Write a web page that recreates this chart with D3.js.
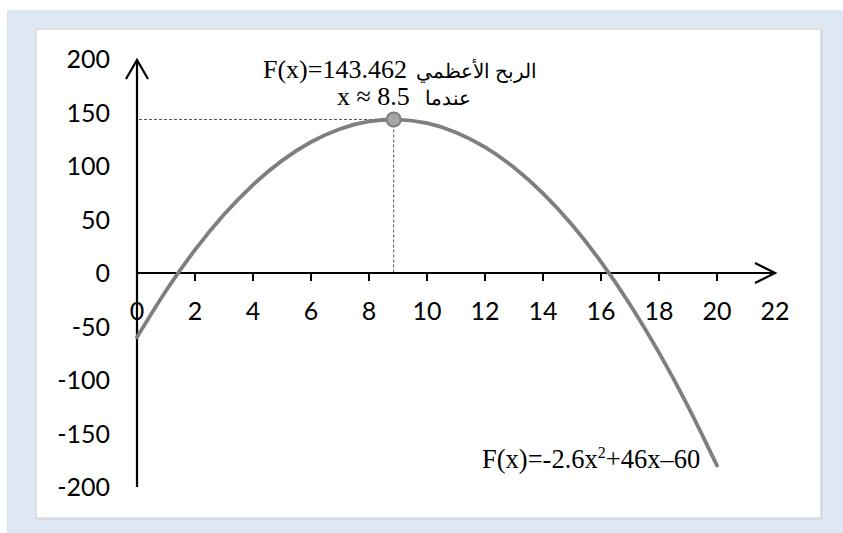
<!DOCTYPE html>
<html>
<head>
<meta charset="utf-8">
<script src="https://cdn.jsdelivr.net/npm/d3@7"></script>
<style>
  body { margin: 0; background: #ffffff; }
</style>
</head>
<body>
<div id="chart"></div>
<script>
// values
const xValues = [0, 1, 2, 3, 4, 5, 6, 7, 8, 9, 10, 11, 12, 13, 14, 15, 16, 17, 18, 19, 20];
const yValues = [-60, -16.6, 21.6, 54.6, 82.4, 105, 122.4, 134.6, 141.6, 143.4, 140, 131.4, 117.6, 98.6, 74.4, 45, 10.4, -29.4, -74.4, -124.6, -180];
const xTicks = [2, 4, 6, 8, 10, 12, 14, 16, 18, 20];
const xTickLabels = [0, 2, 4, 6, 8, 10, 12, 14, 16, 18, 20, 22];
const yTickLabels = [200, 150, 100, 50, 0, -50, -100, -150, -200];
const peakX = [8.85];
const peakY = [143.46];
const annotationLatin = ["F(x)=143.462", "x ≈ 8.5"];
const annotationArabic = ["الربح الأعظمي", "عندما"];
const formulaText = "F(x)=-2.6x";

const W = 843, H = 533;

const svg = d3.select("#chart")
  .append("svg")
  .attr("width", W)
  .attr("height", H);

// backgrounds
svg.append("rect")
  .attr("x", 7).attr("y", 10)
  .attr("width", W - 7).attr("height", H - 10)
  .attr("fill", "#dee8f4");

svg.append("rect")
  .attr("x", 38).attr("y", 31)
  .attr("width", 785).attr("height", 489)
  .attr("fill", "#dcdcdc");
svg.append("rect")
  .attr("x", 36).attr("y", 29)
  .attr("width", 785).attr("height", 489)
  .attr("fill", "#ffffff")
  .attr("stroke", "#d9d9d9")
  .attr("stroke-width", 1.5);

const x = d3.scaleLinear().domain([0, 22]).range([137, 775]);
const y = d3.scaleLinear().domain([-200, 200]).range([487, 59]);

const labelFont = "Lato, 'Open Sans', sans-serif";
const serifFont = "'Liberation Serif', 'Times New Roman', serif";

// y axis labels
svg.append("g")
  .selectAll("text")
  .data(yTickLabels)
  .join("text")
  .attr("x", 110)
  .attr("y", d => y(d))
  .attr("dy", "0.36em")
  .attr("text-anchor", "end")
  .attr("font-family", labelFont)
  .attr("font-size", 25)
  .attr("fill", "#000")
  .text(d => d);

// dashed guide lines to the peak
svg.append("line")
  .attr("x1", x(0) + 2).attr("x2", x(peakX[0]))
  .attr("y1", y(peakY[0])).attr("y2", y(peakY[0]))
  .attr("stroke", "#595959")
  .attr("stroke-width", 1)
  .attr("stroke-dasharray", "3,2");
svg.append("line")
  .attr("x1", x(peakX[0])).attr("x2", x(peakX[0]))
  .attr("y1", y(peakY[0])).attr("y2", y(0))
  .attr("stroke", "#595959")
  .attr("stroke-width", 1)
  .attr("stroke-dasharray", "3,2");

// x axis line + ticks
svg.append("line")
  .attr("x1", x(0)).attr("x2", x(22))
  .attr("y1", y(0)).attr("y2", y(0))
  .attr("stroke", "#000").attr("stroke-width", 2);
svg.append("g")
  .selectAll("line")
  .data(xTicks)
  .join("line")
  .attr("x1", d => x(d)).attr("x2", d => x(d))
  .attr("y1", y(0)).attr("y2", y(0) + 8)
  .attr("stroke", "#000").attr("stroke-width", 2);
svg.append("path")
  .attr("d", `M${x(22) - 20},${y(0) - 10} L${x(22)},${y(0)} L${x(22) - 20},${y(0) + 10}`)
  .attr("fill", "none")
  .attr("stroke", "#000").attr("stroke-width", 2.2);

// y axis line + arrow
svg.append("line")
  .attr("x1", x(0)).attr("x2", x(0))
  .attr("y1", y(-200)).attr("y2", y(200) + 1)
  .attr("stroke", "#000").attr("stroke-width", 2.2);
svg.append("path")
  .attr("d", `M${x(0) - 11},${y(200) + 20} L${x(0)},${y(200) + 1} L${x(0) + 11},${y(200) + 20}`)
  .attr("fill", "none")
  .attr("stroke", "#000").attr("stroke-width", 2.2);

// x axis labels
svg.append("g")
  .selectAll("text")
  .data(xTickLabels)
  .join("text")
  .attr("x", d => x(d))
  .attr("y", y(0) + 47)
  .attr("text-anchor", "middle")
  .attr("font-family", labelFont)
  .attr("font-size", 25)
  .attr("fill", "#000")
  .text(d => d);

// the curve
const pts = xValues.map((v, i) => [v, yValues[i]]);
const line = d3.line()
  .x(d => x(d[0]))
  .y(d => y(d[1]))
  .curve(d3.curveNatural);

svg.append("path")
  .datum(pts)
  .attr("d", line)
  .attr("fill", "none")
  .attr("stroke", "#7f7f7f")
  .attr("stroke-width", 3.8)
  .attr("stroke-linecap", "round");

// peak marker
svg.append("circle")
  .attr("cx", x(peakX[0]))
  .attr("cy", y(peakY[0]))
  .attr("r", 7)
  .attr("fill", "#a6a6a6")
  .attr("stroke", "#7f7f7f")
  .attr("stroke-width", 2);

// annotation: latin part left, arabic part right
const annoLatinX = [263, 337];
const annoArabicX = [537, 471];
const annoY = [78, 105];
annotationLatin.forEach((t, i) => {
  svg.append("text")
    .attr("x", annoLatinX[i])
    .attr("y", annoY[i])
    .attr("font-family", serifFont)
    .attr("font-size", 26)
    .attr("fill", "#000")
    .text(t);
  svg.append("text")
    .attr("x", annoArabicX[i])
    .attr("y", annoY[i])
    .attr("text-anchor", "end")
    .attr("font-family", serifFont)
    .attr("font-size", 20)
    .attr("fill", "#000")
    .text(annotationArabic[i]);
});

// formula
const ft = svg.append("text")
  .attr("x", 482)
  .attr("y", 468)
  .attr("font-family", serifFont)
  .attr("font-size", 26.5)
  .attr("fill", "#000");
ft.append("tspan").text(formulaText);
ft.append("tspan").attr("dy", -10).attr("font-size", 16).text("2");
ft.append("tspan").attr("dy", 10).text("+46x–60");
</script>
</body>
</html>
